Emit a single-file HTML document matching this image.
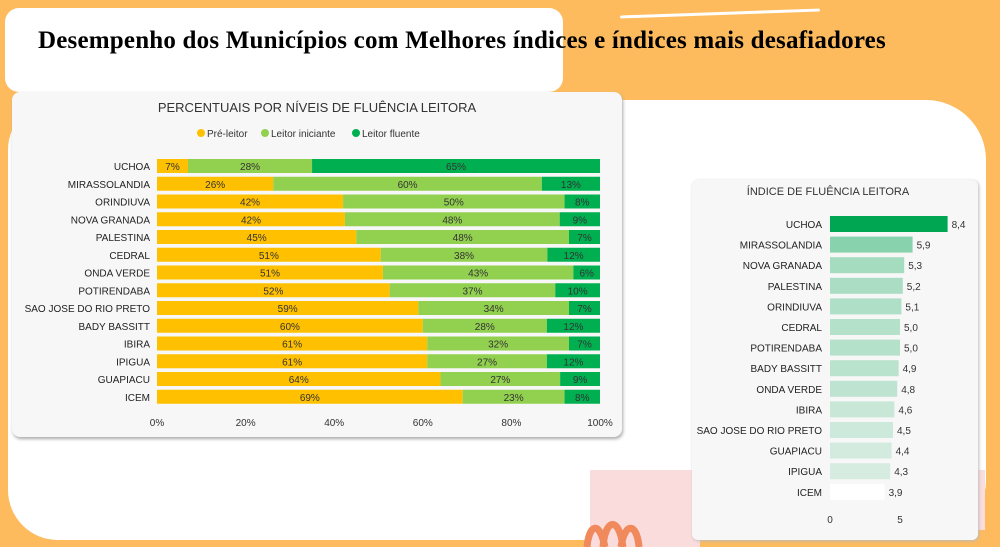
<!DOCTYPE html>
<html><head><meta charset="utf-8"><style>
body{margin:0;width:1000px;height:547px;overflow:hidden;background:#FDBB5E;position:relative;font-family:"Liberation Sans",sans-serif}
.abs{position:absolute}
</style></head><body>
<div class="abs" style="left:8px;top:100px;width:978px;height:440px;background:#fff;border-radius:50px 60px 60px 50px"></div>
<div class="abs" style="left:5px;top:8px;width:558px;height:84px;background:#fff;border-radius:14px"></div>
<div class="abs" style="left:620px;top:12px;width:200px;height:3px;background:#fff;border-radius:2px;transform:rotate(-2deg)"></div>
<div class="abs" style="left:38px;top:27px;font-family:'Liberation Serif',serif;font-weight:bold;font-size:25px;letter-spacing:0.2px;color:#000;white-space:nowrap">Desempenho dos Municípios com Melhores índices e índices mais desafiadores</div>
<div class="abs" style="left:845px;top:470px;width:140px;height:60px;background:#fbdcdc"></div>
<div class="abs" style="left:590px;top:470px;width:110px;height:77px;background:#fbdcdc"></div>
<svg class="abs" style="left:575px;top:505px" width="110" height="42"><path d="M12 42 C14 20 24 14 30 42 M28 42 C30 14 44 10 48 42 M46 42 C50 16 62 18 64 42" stroke="#F08A5D" stroke-width="7" fill="none"/></svg>
<div class="abs" style="left:12px;top:92px;width:610px;height:345px;background:#f7f7f7;border-radius:8px;box-shadow:1px 2px 3px #aaa"></div>
<div class="abs" style="left:692px;top:180px;width:286px;height:360px;background:#f7f7f7;border-radius:6px;box-shadow:1px 1px 3px #bbb"></div>
<svg class="abs" style="left:0;top:0" width="1000" height="547" font-family="Liberation Sans, sans-serif">
<text x="317" y="112" font-size="13" text-anchor="middle" fill="#333">PERCENTUAIS POR NÍVEIS DE FLUÊNCIA LEITORA</text>
<circle cx="201" cy="133" r="4" fill="#FFC000"/><text x="207" y="137" font-size="10" fill="#333">Pré-leitor</text>
<circle cx="265" cy="133" r="4" fill="#92D050"/><text x="271" y="137" font-size="10" fill="#333">Leitor iniciante</text>
<circle cx="356" cy="133" r="4" fill="#00B050"/><text x="362" y="137" font-size="10" fill="#333">Leitor fluente</text>
<g id="L" font-size="10"></g>
<text x="828" y="195" font-size="11" text-anchor="middle" fill="#333">ÍNDICE DE FLUÊNCIA LEITORA</text>
<g id="R" font-size="10"></g>
</svg>
<script>
var d=[["UCHOA",7,28,65],["MIRASSOLANDIA",26,60,13],["ORINDIUVA",42,50,8],["NOVA GRANADA",42,48,9],["PALESTINA",45,48,7],["CEDRAL",51,38,12],["ONDA VERDE",51,43,6],["POTIRENDABA",52,37,10],["SAO JOSE DO RIO PRETO",59,34,7],["BADY BASSITT",60,28,12],["IBIRA",61,32,7],["IPIGUA",61,27,12],["GUAPIACU",64,27,9],["ICEM",69,23,8]];
var s="",x0=157,W=443,c=["#FFC000","#92D050","#00B050"];
d.forEach(function(r,i){var y=166+i*17.75,x=x0;s+='<text x="150" y="'+(y+4)+'" text-anchor="end" fill="#222">'+r[0]+'</text>';
var t=r[1]+r[2]+r[3];for(var k=0;k<3;k++){var w=r[k+1]/t*W;s+='<rect x="'+x+'" y="'+(y-7)+'" width="'+w+'" height="14" fill="'+c[k]+'"/><text x="'+(x+w/2)+'" y="'+(y+4)+'" text-anchor="middle" fill="#333">'+r[k+1]+'%</text>';x+=w;}});
["0%","20%","40%","60%","80%","100%"].forEach(function(l,i){s+='<text x="'+(x0+i*W/5)+'" y="426" text-anchor="middle" fill="#333">'+l+'</text>';});
document.getElementById("L").innerHTML=s;
var e=[["UCHOA",8.4],["MIRASSOLANDIA",5.9],["NOVA GRANADA",5.3],["PALESTINA",5.2],["ORINDIUVA",5.1],["CEDRAL",5.0],["POTIRENDABA",5.0],["BADY BASSITT",4.9],["ONDA VERDE",4.8],["IBIRA",4.6],["SAO JOSE DO RIO PRETO",4.5],["GUAPIACU",4.4],["IPIGUA",4.3],["ICEM",3.9]];
s="";e.forEach(function(r,i){var y=224+i*20.6,w=r[1]*14,a="rgba(0,166,81,"+(0.05+(r[1]-3.9)/2*0.4).toFixed(2)+")";
if(i==0)a="#00A651";if(i==13)a="#fff";
s+='<text x="822" y="'+(y+4)+'" text-anchor="end" fill="#222">'+r[0]+'</text><rect x="830" y="'+(y-8)+'" width="'+w+'" height="16" fill="'+a+'"/><text x="'+(834+w)+'" y="'+(y+4)+'" fill="#333">'+r[1].toFixed(1).replace(".",",")+'</text>';});
s+='<text x="830" y="523" text-anchor="middle" fill="#333">0</text><text x="900" y="523" text-anchor="middle" fill="#333">5</text>';
document.getElementById("R").innerHTML=s;
</script>
</body></html>
